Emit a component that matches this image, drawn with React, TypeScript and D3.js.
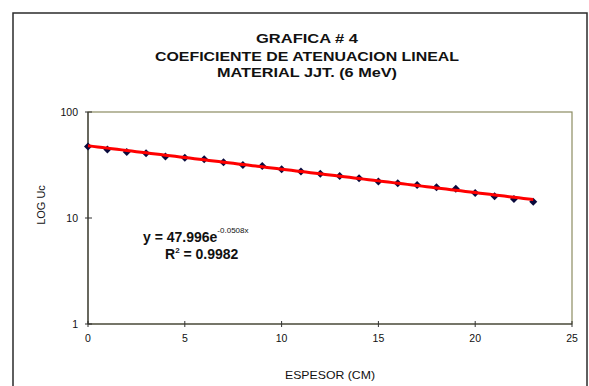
import { useEffect, useRef } from 'react';
import * as d3 from 'd3';

const espesor = [0, 1, 2, 3, 4, 5, 6, 7, 8, 9, 10, 11, 12, 13, 14, 15, 16, 17, 18, 19, 20, 21, 22, 23];
const valores = [47.2, 44.4, 41.9, 40.8, 38.0, 37.1, 35.8, 33.6, 31.7, 30.9, 28.9, 27.4, 26.1, 24.9, 23.7, 22.1, 21.3, 20.5, 19.5, 18.9, 17.2, 16.0, 15.1, 14.2];

const xTicks = [0, 5, 10, 15, 20, 25];
const yTicks = [1, 10, 100];

// trendline shown in the chart
const TREND_A = 47.996;
const TREND_B = -0.0508;

const titleLines = ['GRAFICA # 4', 'COEFICIENTE  DE ATENUACION LINEAL', 'MATERIAL JJT. (6 MeV)'];

export default function App() {
  const svgRef = useRef<SVGSVGElement>(null);

  useEffect(() => {
    document.body.style.margin = '0';
    if (!svgRef.current) return;
    const svg = d3.select(svgRef.current);
    svg.selectAll('*').remove();

    const W = 589, H = 386;
    const left = 88, right = 572, top = 112, bottom = 324;
    const font = 'Liberation Sans, Arial, sans-serif';

    svg.attr('width', W).attr('height', H).style('background', '#fff');

    // outer chart frame
    svg.append('rect')
      .attr('x', 13).attr('y', 13)
      .attr('width', 574).attr('height', 400)
      .attr('fill', 'none').attr('stroke', '#2b2b2b').attr('stroke-width', 1.5);

    // title
    const tLen = [102, 304, 180];
    const tY = [43, 61, 77];
    titleLines.forEach((t, i) => {
      svg.append('text')
        .attr('x', 307).attr('y', tY[i])
        .attr('text-anchor', 'middle')
        .attr('font-family', font).attr('font-weight', 'bold').attr('font-size', 13)
        .attr('textLength', tLen[i]).attr('lengthAdjust', 'spacingAndGlyphs')
        .attr('fill', '#111')
        .text(t);
    });

    const x = d3.scaleLinear().domain([0, 25]).range([left, right]);
    const y = d3.scaleLog().domain([1, 100]).range([bottom, top]);

    // plot border (olive)
    svg.append('rect')
      .attr('x', left).attr('y', top)
      .attr('width', right - left).attr('height', bottom - top)
      .attr('fill', 'none').attr('stroke', '#8c8c62').attr('stroke-width', 1.2);

    // axes
    svg.append('line')
      .attr('x1', left).attr('x2', right).attr('y1', bottom).attr('y2', bottom)
      .attr('stroke', '#333').attr('stroke-width', 1.2);
    svg.append('line')
      .attr('x1', left).attr('x2', left).attr('y1', top).attr('y2', bottom)
      .attr('stroke', '#333').attr('stroke-width', 1.2);

    svg.selectAll('.xt').data(xTicks).join('line')
      .attr('x1', d => x(d)).attr('x2', d => x(d))
      .attr('y1', bottom - 3).attr('y2', bottom + 3)
      .attr('stroke', '#333').attr('stroke-width', 1);
    svg.selectAll('.xl').data(xTicks).join('text')
      .attr('x', d => x(d)).attr('y', bottom + 18)
      .attr('text-anchor', 'middle')
      .attr('font-family', font).attr('font-size', 10.5).attr('fill', '#111')
      .text(d => d);

    svg.selectAll('.yt').data(yTicks).join('line')
      .attr('x1', left - 3).attr('x2', left + 4)
      .attr('y1', d => y(d)).attr('y2', d => y(d))
      .attr('stroke', '#333').attr('stroke-width', 1);
    svg.selectAll('.yl').data(yTicks).join('text')
      .attr('x', left - 10).attr('y', d => y(d) + 4)
      .attr('text-anchor', 'end')
      .attr('font-family', font).attr('font-size', 10.5).attr('fill', '#111')
      .text(d => d);

    // axis titles
    svg.append('text')
      .attr('x', 330).attr('y', 379)
      .attr('text-anchor', 'middle')
      .attr('font-family', font).attr('font-size', 11).attr('fill', '#111')
      .attr('textLength', 90).attr('lengthAdjust', 'spacingAndGlyphs')
      .text('ESPESOR (CM)');
    svg.append('text')
      .attr('transform', 'translate(45,205) rotate(-90)')
      .attr('text-anchor', 'middle')
      .attr('font-family', font).attr('font-size', 11).attr('fill', '#111')
      .text('LOG Uc');

    // data markers
    const diamond = d3.symbol().type(d3.symbolSquare).size(32);
    svg.selectAll('.pt').data(espesor).join('path')
      .attr('d', diamond)
      .attr('transform', (d, i) => `translate(${x(d)},${y(valores[i])}) rotate(45)`)
      .attr('fill', '#0a0a3c');

    // exponential trendline
    const trend = d3.range(0, 23.01, 0.25).map(v => [v, TREND_A * Math.exp(TREND_B * v)] as [number, number]);
    svg.append('path')
      .datum(trend)
      .attr('d', d3.line<[number, number]>().x(d => x(d[0])).y(d => y(d[1])))
      .attr('fill', 'none').attr('stroke', '#ff0000').attr('stroke-width', 3);

    // equation
    const eq = svg.append('text')
      .attr('x', 143).attr('y', 242)
      .attr('font-family', font).attr('font-weight', 'bold').attr('font-size', 14).attr('fill', '#111');
    eq.append('tspan').text(`y = ${TREND_A}e`);
    eq.append('tspan').attr('dy', -9).attr('font-size', 8).attr('font-weight', 'normal').text(`${TREND_B}x`);

    const r2 = svg.append('text')
      .attr('x', 165).attr('y', 259)
      .attr('font-family', font).attr('font-weight', 'bold').attr('font-size', 14).attr('fill', '#111');
    r2.append('tspan').text('R');
    r2.append('tspan').attr('dy', -6).attr('font-size', 8).text('2');
    r2.append('tspan').attr('dy', 6).text(' = 0.9982');
  }, []);

  return (
    <div style={{ position: 'absolute', left: 0, top: 0 }}>
      <svg ref={svgRef}></svg>
    </div>
  );
}
